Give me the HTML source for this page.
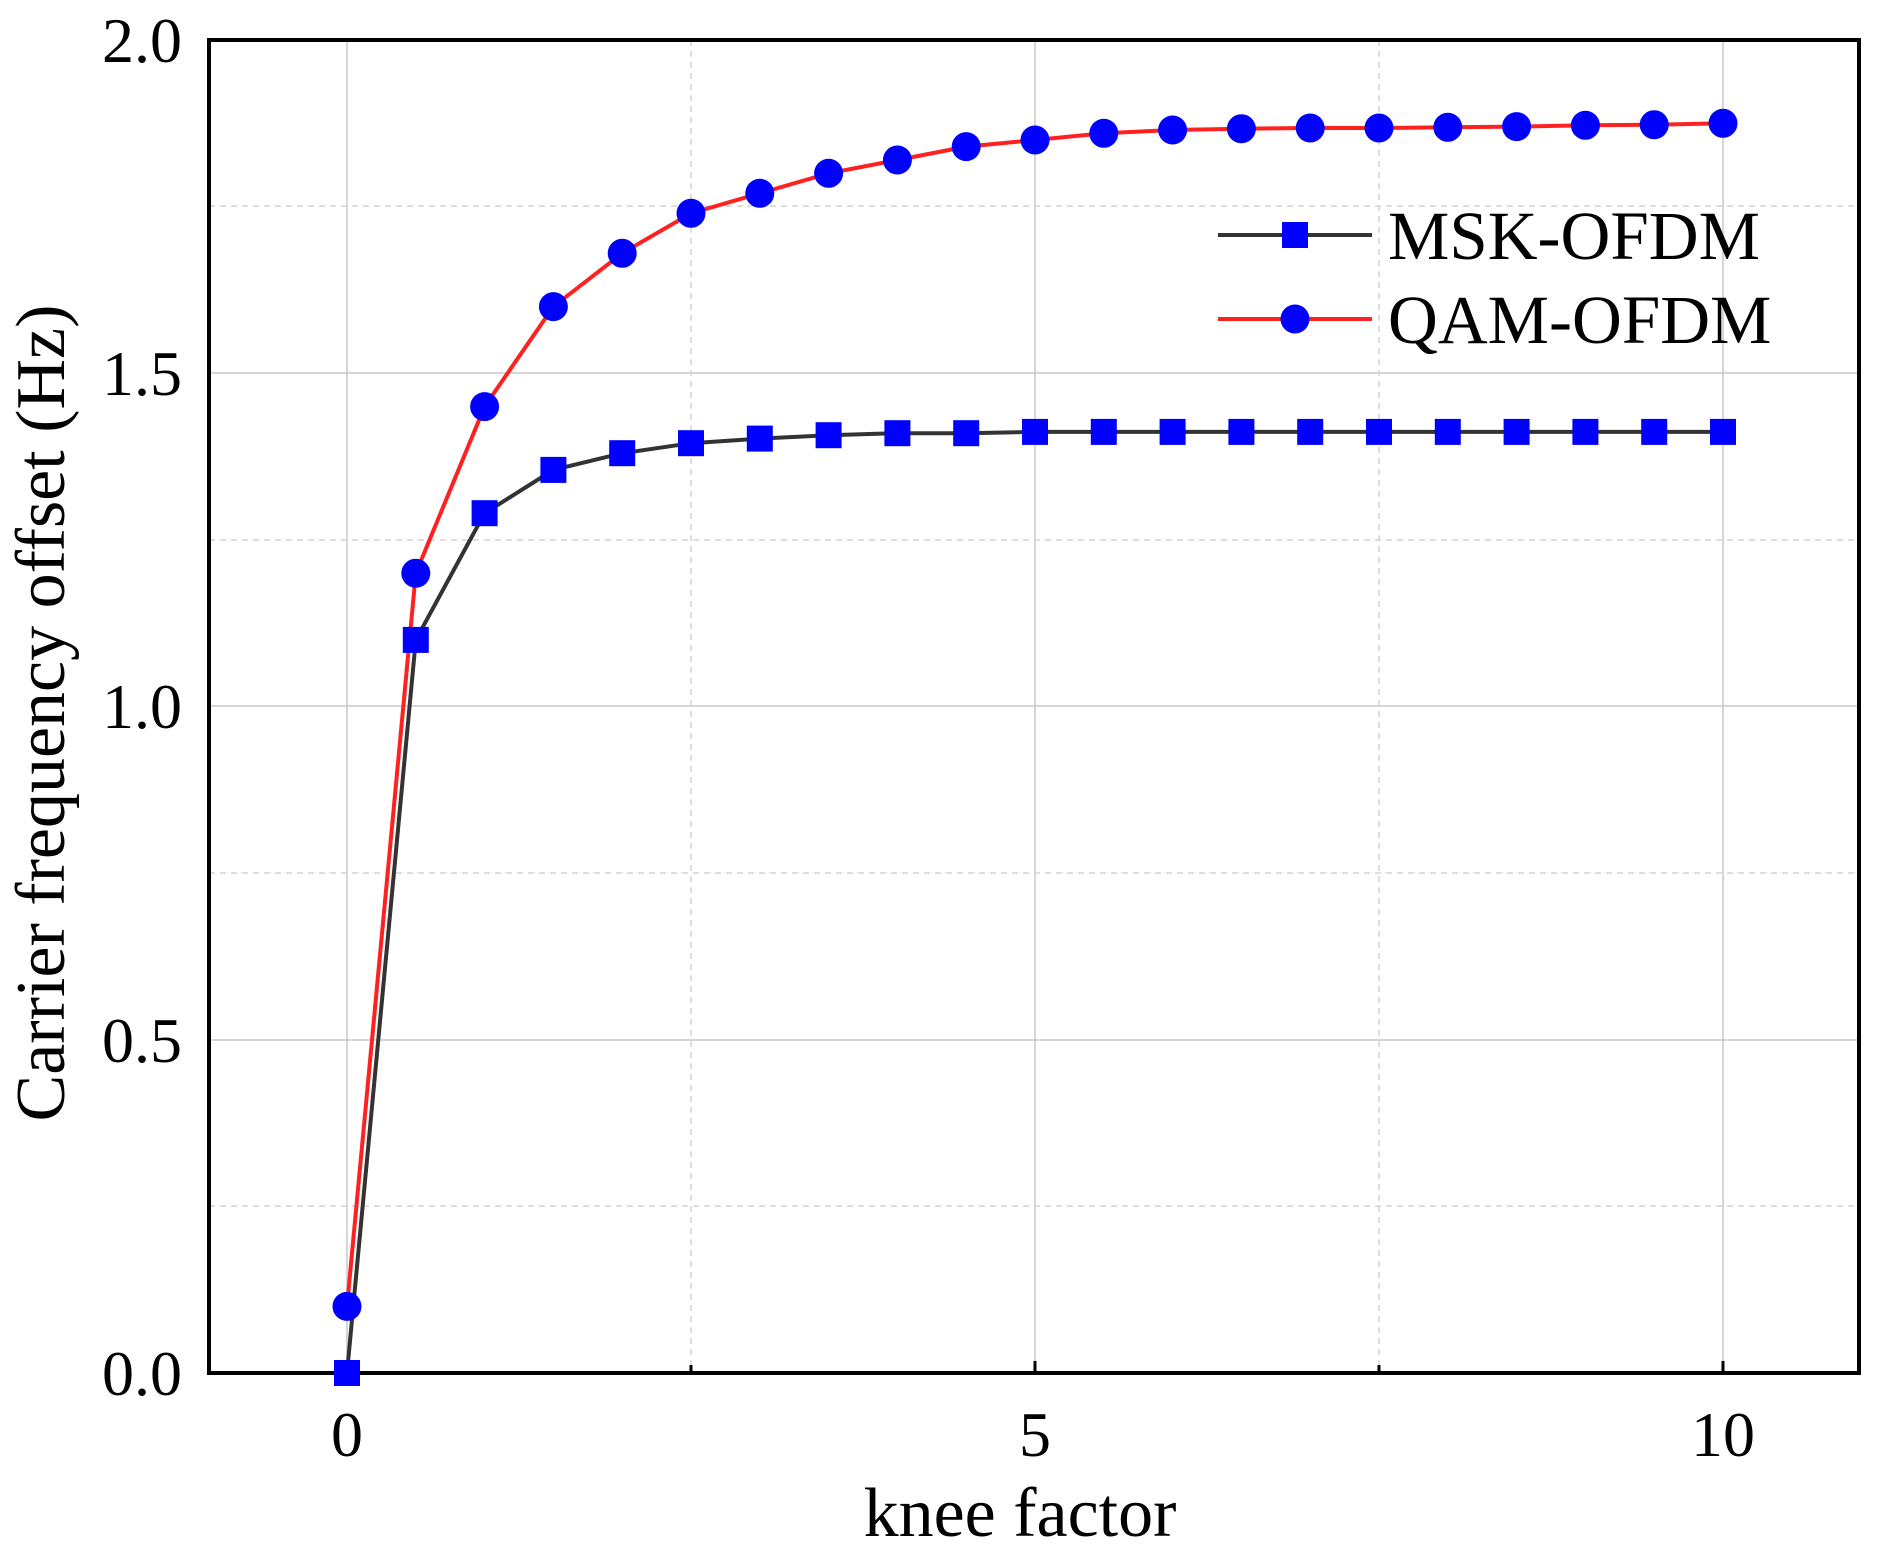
<!DOCTYPE html>
<html><head><style>body{margin:0;background:#fff}</style></head><body>
<svg width="1881" height="1556" xmlns="http://www.w3.org/2000/svg" xmlns:xlink="http://www.w3.org/1999/xlink" font-family="Liberation Serif, serif">
<defs>
<rect id="sq" x="-13" y="-13" width="26" height="26" fill="#0000ff"/>
<circle id="ci" r="14.5" fill="#0000ff"/>
</defs>
<rect width="1881" height="1556" fill="#fff"/>
<g stroke="#c8c8c8" stroke-width="1.5">
<line x1="347" y1="40" x2="347" y2="1373"/><line x1="1035" y1="40" x2="1035" y2="1373"/><line x1="1723" y1="40" x2="1723" y2="1373"/>
<line x1="209" y1="1040" x2="1859" y2="1040"/><line x1="209" y1="706" x2="1859" y2="706"/><line x1="209" y1="373" x2="1859" y2="373"/>
</g>
<g stroke="#d4d4d4" stroke-width="1.5" stroke-dasharray="6,5">
<line x1="691" y1="40" x2="691" y2="1373"/><line x1="1379" y1="40" x2="1379" y2="1373"/>
<line x1="209" y1="1206" x2="1859" y2="1206"/><line x1="209" y1="873" x2="1859" y2="873"/><line x1="209" y1="540" x2="1859" y2="540"/><line x1="209" y1="206" x2="1859" y2="206"/>
</g>
<g stroke="#000" stroke-width="3">
<line x1="347" y1="1373" x2="347" y2="1361"/><line x1="691" y1="1373" x2="691" y2="1365"/><line x1="1035" y1="1373" x2="1035" y2="1361"/><line x1="1379" y1="1373" x2="1379" y2="1365"/><line x1="1723" y1="1373" x2="1723" y2="1361"/>
</g>
<rect x="209" y="40" width="1650" height="1333" fill="none" stroke="#000" stroke-width="4"/>
<polyline fill="none" stroke="#333" stroke-width="4" points="347,1373 415.8,639.9 484.6,513.2 553.4,469.9 622.2,453.2 691,443.2 759.8,438.6 828.6,435.2 897.4,433.2 966.2,433.2 1035,431.9 1103.8,431.9 1172.6,431.9 1241.4,431.9 1310.2,431.9 1379,431.9 1447.8,431.9 1516.6,431.9 1585.4,431.9 1654.2,431.9 1723,431.9"/>
<polyline fill="none" stroke="#ff2020" stroke-width="4" points="347,1306.4 415.8,573.2 484.6,406.6 553.4,306.6 622.2,253.3 691,213.3 759.8,193.3 828.6,173.3 897.4,160 966.2,146.6 1035,140 1103.8,133.3 1172.6,130 1241.4,128.7 1310.2,128 1379,128 1447.8,127.3 1516.6,126.6 1585.4,125.3 1654.2,124.7 1723,123.3"/>
<g>
<use xlink:href="#sq" x="347" y="1373"/><use xlink:href="#sq" x="415.8" y="639.9"/><use xlink:href="#sq" x="484.6" y="513.2"/><use xlink:href="#sq" x="553.4" y="469.9"/><use xlink:href="#sq" x="622.2" y="453.2"/><use xlink:href="#sq" x="691" y="443.2"/><use xlink:href="#sq" x="759.8" y="438.6"/><use xlink:href="#sq" x="828.6" y="435.2"/><use xlink:href="#sq" x="897.4" y="433.2"/><use xlink:href="#sq" x="966.2" y="433.2"/><use xlink:href="#sq" x="1035" y="431.9"/><use xlink:href="#sq" x="1103.8" y="431.9"/><use xlink:href="#sq" x="1172.6" y="431.9"/><use xlink:href="#sq" x="1241.4" y="431.9"/><use xlink:href="#sq" x="1310.2" y="431.9"/><use xlink:href="#sq" x="1379" y="431.9"/><use xlink:href="#sq" x="1447.8" y="431.9"/><use xlink:href="#sq" x="1516.6" y="431.9"/><use xlink:href="#sq" x="1585.4" y="431.9"/><use xlink:href="#sq" x="1654.2" y="431.9"/><use xlink:href="#sq" x="1723" y="431.9"/>
<use xlink:href="#ci" x="347" y="1306.4"/><use xlink:href="#ci" x="415.8" y="573.2"/><use xlink:href="#ci" x="484.6" y="406.6"/><use xlink:href="#ci" x="553.4" y="306.6"/><use xlink:href="#ci" x="622.2" y="253.3"/><use xlink:href="#ci" x="691" y="213.3"/><use xlink:href="#ci" x="759.8" y="193.3"/><use xlink:href="#ci" x="828.6" y="173.3"/><use xlink:href="#ci" x="897.4" y="160"/><use xlink:href="#ci" x="966.2" y="146.6"/><use xlink:href="#ci" x="1035" y="140"/><use xlink:href="#ci" x="1103.8" y="133.3"/><use xlink:href="#ci" x="1172.6" y="130"/><use xlink:href="#ci" x="1241.4" y="128.7"/><use xlink:href="#ci" x="1310.2" y="128"/><use xlink:href="#ci" x="1379" y="128"/><use xlink:href="#ci" x="1447.8" y="127.3"/><use xlink:href="#ci" x="1516.6" y="126.6"/><use xlink:href="#ci" x="1585.4" y="125.3"/><use xlink:href="#ci" x="1654.2" y="124.7"/><use xlink:href="#ci" x="1723" y="123.3"/>
</g>
<g font-size="64" fill="#000" text-anchor="end">
<text x="182" y="1395">0.0</text><text x="182" y="1062">0.5</text><text x="182" y="728">1.0</text><text x="182" y="395">1.5</text><text x="182" y="62">2.0</text>
</g>
<g font-size="64" fill="#000" text-anchor="middle">
<text x="347" y="1456">0</text><text x="1035" y="1456">5</text><text x="1723" y="1456">10</text>
<text x="1020" y="1536" font-size="70">knee factor</text>
<text transform="translate(64,713) rotate(-90)" font-size="70">Carrier frequency offset (Hz)</text>
</g>
<line x1="1218" y1="235" x2="1372" y2="235" stroke="#333" stroke-width="4"/>
<use xlink:href="#sq" x="1295" y="235"/>
<line x1="1218" y1="319" x2="1372" y2="319" stroke="#ff2020" stroke-width="4"/>
<use xlink:href="#ci" x="1295" y="319"/>
<g font-size="69" fill="#000"><text x="1388" y="259">MSK-OFDM</text><text x="1388" y="343">QAM-OFDM</text></g>
</svg>
</body></html>
